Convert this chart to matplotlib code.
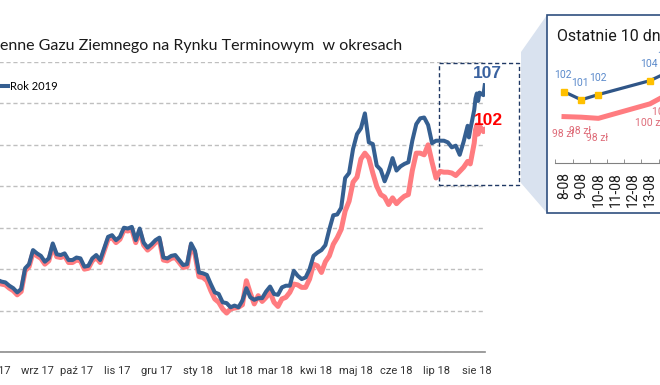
import numpy as np
import pandas as pd
import matplotlib
matplotlib.use('Agg')
import matplotlib.pyplot as plt
import matplotlib.dates as mdates
from matplotlib.patches import Rectangle, Polygon
from matplotlib.ticker import MultipleLocator, FuncFormatter

plt.rcParams['font.family'] = ['Roboto', 'DejaVu Sans']

# --- dane ---
grid_start = '2017-08-13'   # co 3 dni do 2018-08-05
blue_grid = [83.8, 83.7, 83.5, 83.4, 83.0, 82.7, 82.2, 82.6, 85.1, 85.6,
             87.3, 86.9, 86.6, 85.9, 86.3, 88.1, 86.8, 86.7, 86.9, 86.1,
             86.1, 86.4, 86.3, 85.3, 85.4, 86.3, 86.7, 86.1, 87.5, 88.9,
             89.1, 88.5, 88.9, 90.0, 89.9, 90.1, 88.5, 89.9, 88.2, 87.6,
             88.0, 88.5, 88.8, 86.4, 86.3, 86.6, 86.7, 86.1, 85.5, 85.6,
             88.1, 87.2, 84.6, 84.5, 84.3, 83.2, 82.2, 82.0, 81.0, 80.9,
             80.4, 80.6, 80.4, 81.2, 82.7, 81.6, 81.3, 81.5, 81.5, 82.3,
             82.9, 82.0, 81.9, 82.8, 83.0, 83.0, 84.8, 84.2, 83.8, 84.0,
             85.0, 86.6, 87.0, 87.3, 87.9, 89.8, 91.5, 91.6, 92.4, 96.0,
             96.6, 99.5, 101.3, 102.0, 103.8, 100.3, 100.1, 97.5, 97.0, 95.6,
             96.8, 98.4, 96.9, 97.4, 97.7, 97.9, 100.5, 102.5, 103.2, 103.3,
             102.4, 100.2, 100.5, 100.5, 100.5, 100.3, 99.7, 99.9, 98.8, 100.4]
red_grid = [83.5, 83.4, 83.2, 83.1, 82.7, 82.4, 81.9, 82.3, 84.8, 85.3,
            87.0, 86.6, 86.3, 85.6, 86.0, 87.8, 86.5, 86.4, 86.6, 85.8,
            85.8, 86.1, 86.0, 85.0, 85.1, 86.0, 86.4, 85.8, 87.2, 88.6,
            88.8, 88.2, 88.6, 89.7, 89.6, 89.8, 88.2, 89.6, 87.9, 87.3,
            87.7, 88.2, 88.5, 86.1, 86.0, 86.3, 86.4, 85.8, 85.2, 85.3,
            87.8, 86.8, 84.1, 84.0, 83.6, 82.4, 81.4, 81.0, 80.2, 79.7,
            80.2, 80.3, 80.4, 80.7, 83.6, 82.1, 80.8, 81.8, 81.1, 81.6,
            82.2, 81.0, 80.5, 81.4, 81.6, 82.2, 83.2, 83.1, 82.8, 82.8,
            83.8, 85.6, 85.4, 84.6, 85.9, 86.6, 88.0, 88.8, 89.8, 92.0,
            93.2, 95.5, 96.1, 98.3, 99.0, 98.4, 96.6, 95.0, 94.0, 93.7,
            92.8, 93.6, 92.9, 93.4, 93.8, 94.0, 96.9, 99.0, 99.0, 98.8,
            100.0, 97.9, 96.0, 96.8, 96.7, 96.7, 96.6, 96.3, 96.8, 97.3]

last_dates = ['2018-08-08', '2018-08-09', '2018-08-10', '2018-08-13', '2018-08-14',
              '2018-08-15', '2018-08-16', '2018-08-17', '2018-08-20', '2018-08-21']
blue_last = [102.3, 100.9, 101.8, 104.2, 105.6, 106.2, 105.3, 106.3, 106.0, 107.2]
red_last = [98.0, 97.9, 97.7, 100.2, 101.8, 102.4, 101.3, 102.3, 101.6, 101.8]

month_labels = ['sie 17', 'wrz 17', 'paź 17', 'lis 17', 'gru 17', 'sty 18', 'lut 18',
                'mar 18', 'kwi 18', 'maj 18', 'cze 18', 'lip 18', 'sie 18']
title = 'enne Gazu Ziemnego na Rynku Terminowym  w okresach'
inset_title = 'Ostatnie 10 dni'
legend_label = 'Rok 2019'

BLUE = '#355F91'
RED = '#FF7C80'

grid_dates = pd.date_range(grid_start, periods=len(blue_grid), freq='3D')
last_dt = pd.to_datetime(last_dates)
dates = grid_dates.append(last_dt)
blue = blue_grid + blue_last
red = red_grid + red_last
month_ticks = pd.date_range('2017-08-01', periods=len(month_labels), freq='MS') + pd.Timedelta(days=14)

W, H = 660, 385
def fx(px):
    return px / W
def fy(py):
    return 1 - py / H

fig = plt.figure(figsize=(W / 100, H / 100), dpi=100)

# wykres glowny
ax = fig.add_axes([fx(-22.3), fy(352), (485.4 + 22.3) / W, (352 - 62) / H])
ax.plot(dates, red, color=RED, lw=3.6, solid_joinstyle='round', zorder=2)
l_blue, = ax.plot(dates, blue, color=BLUE, lw=2.9, solid_joinstyle='round', zorder=3)
ax.set_xlim(pd.Timestamp('2017-08-01'), pd.Timestamp('2018-08-21 12:00'))
ax.set_ylim(75, 110)
ax.yaxis.set_major_locator(MultipleLocator(5))
ax.grid(axis='y', color='#BFBFBF', ls=(0, (3, 2)), lw=1)
ax.set_axisbelow(True)
ax.tick_params(axis='y', length=0, labelleft=False)
ax.set_xticks(month_ticks)
ax.set_xticklabels(month_labels)
ax.tick_params(axis='x', length=0, pad=10, labelsize=8, labelcolor='#333333')
for s in ['top', 'right', 'left']:
    ax.spines[s].set_visible(False)
ax.spines['bottom'].set_color('#8C8C8C')
ax.spines['bottom'].set_linewidth(1.2)

ax.annotate(f'{blue[-1]:.0f}', (dates[-1], blue[-1]), xytext=(2.2, 8.5), textcoords='offset points',
            ha='center', va='center', fontsize=12.5, fontweight='bold', color='#3A62A0',
            family='Liberation Sans', annotation_clip=False, zorder=5)
ax.annotate(f'{red[-1]:.0f}', (dates[-1], red[-1]), xytext=(2.9, 6.5), textcoords='offset points',
            ha='center', va='center', fontsize=12.5, fontweight='bold', color='#FF0000',
            family='Liberation Sans', annotation_clip=False, zorder=5)

# ramka ostatnich dni
ax.add_patch(Rectangle((fx(439), fy(185)), 80 / W, 122 / H, transform=fig.transFigure,
                       fill=False, ec='#1F3864', lw=1, ls=(0, (3, 2)), clip_on=False, zorder=1.5))

ax.legend([l_blue], [legend_label], loc='center left', bbox_to_anchor=(fx(-9.9), fy(86)),
          bbox_transform=fig.transFigure, frameon=False, handlelength=1.2, handletextpad=0.2,
          borderaxespad=0, prop={'family': 'Lato', 'size': 8})

fig.text(0, fy(46), title, fontsize=11.5, family='Lato', va='center', color='#1A1A1A')

# wstawka
fig.add_artist(Polygon([(fx(521), fy(52)), (fx(547), fy(15)), (fx(547), fy(213)), (fx(521), fy(183))],
                       closed=True, transform=fig.transFigure, fc='#D9E2EF', ec='none', zorder=1))
fig.add_artist(Rectangle((fx(547), fy(213)), (820 - 547) / W, 198 / H, transform=fig.transFigure,
                         fc='white', ec='#2F4F7F', lw=1.2, zorder=2))
fig.text(fx(557), fy(41), inset_title, fontsize=11.5, va='baseline',
         color='#1A1A1A', zorder=4)

ax2 = fig.add_axes([fx(555.4), fy(163), 240.8 / W, 116 / H], zorder=3)
ax2.patch.set_alpha(0)
ax2.plot(last_dt, red_last, color=RED, lw=3.6, solid_joinstyle='round')
ax2.plot(last_dt, blue_last, color='#2F5587', lw=2.3, marker='s', ms=4,
         mfc='#FFC000', mec='#FFC000')
red_off = [17, 14, 20, 19, 17, 17, 17, 17, 17, 17]
for d, v in zip(last_dt, blue_last):
    ax2.annotate(f'{v:.0f}', (d, v), xytext=(-0.7, 12.2), textcoords='offset points',
                 ha='center', va='center', fontsize=7.5, color='#5B8ACB', annotation_clip=False)
for d, v, o in zip(last_dt, red_last, red_off):
    ax2.annotate(f'{v:.0f} zł', (d, v), xytext=(-0.7, -o * 0.72), textcoords='offset points',
                 ha='center', va='center', fontsize=7.5, color='#DE6B78', annotation_clip=False)
ax2.set_xlim(pd.Timestamp('2018-08-07 12:00'), pd.Timestamp('2018-08-21 12:00'))
ax2.set_ylim(90, 110)
ax2.xaxis.set_major_locator(mdates.DayLocator())
ax2.xaxis.set_minor_locator(mdates.HourLocator(byhour=[12]))
ax2.xaxis.set_major_formatter(FuncFormatter(
    lambda v, p: f'{mdates.num2date(v).day}-{mdates.num2date(v).month:02d}'))
ax2.tick_params(axis='x', which='major', length=0, pad=6.5, labelsize=10,
                labelrotation=90, labelcolor='#1A1A1A')
ax2.tick_params(axis='x', which='minor', length=3, direction='in', color='#808080')
ax2.set_yticks([])
for s in ['top', 'right', 'left']:
    ax2.spines[s].set_visible(False)
ax2.spines['bottom'].set_color('#808080')

fig.savefig('out.png', dpi=100)
